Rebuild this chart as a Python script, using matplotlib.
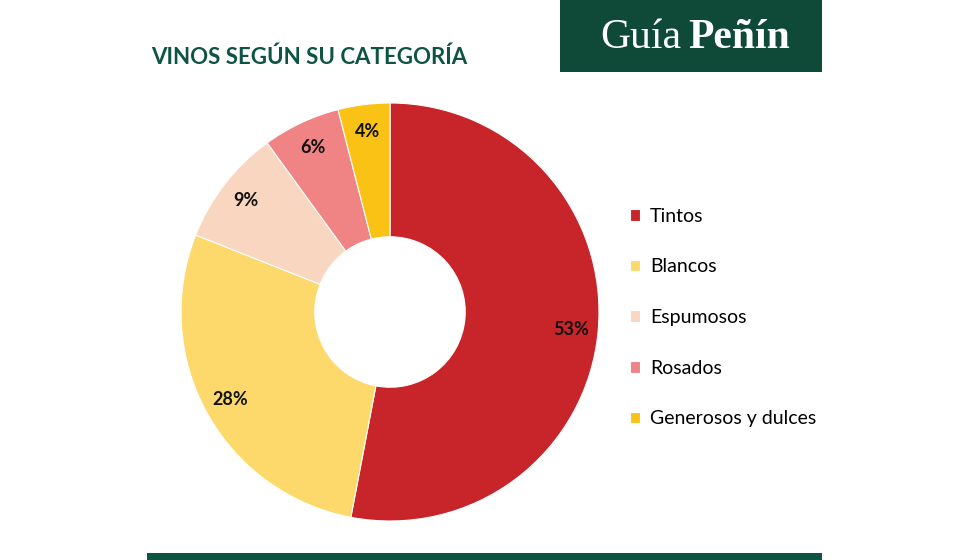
import matplotlib.pyplot as plt
from matplotlib.patches import Rectangle

categorias = ['Tintos', 'Blancos', 'Espumosos', 'Rosados', 'Generosos y dulces']
porcentajes = [53, 28, 9, 6, 4]
colores = ['#C8252A', '#FCD96A', '#F8D6C0', '#F08383', '#F9C214']

verde = '#0E5442'
plt.rcParams['font.family'] = ['Lato', 'DejaVu Sans']

fig = plt.figure(figsize=(9.8, 5.6), dpi=100)
W, H = 980, 560

# donut
cx, cy, r = 390, 312, 209
ax = fig.add_axes([(cx - r) / W, (H - cy - r) / H, 2 * r / W, 2 * r / H])
wedges, _, autotexts = ax.pie(porcentajes, colors=colores, startangle=90, counterclock=False,
                              radius=1, autopct=lambda p: f'{round(p)}%', pctdistance=0.87,
                              wedgeprops=dict(width=0.64, edgecolor='white', linewidth=0.8),
                              textprops=dict(fontsize=13, fontweight='bold', color='#111111'))
ax.set_xlim(-1, 1)
ax.set_ylim(-1, 1)

# titulo
fig.text(151 / W, 1 - 57 / H, 'VINOS SEGÚN SU CATEGORÍA', fontsize=16, fontweight='bold',
         color=verde, va='center', ha='left')

# leyenda
fig.legend(wedges, categorias, loc='upper left', bbox_to_anchor=(622 / W, 1 - 200 / H),
           frameon=False, fontsize=14, labelspacing=1.73, handlelength=0.55, handleheight=0.55,
           handletextpad=0.5, borderaxespad=0)

# logo
fig.patches.append(Rectangle((560 / W, 1 - 72 / H), 262 / W, 72 / H, transform=fig.transFigure,
                             facecolor='#0F4A38', edgecolor='none'))
fig.text(600 / W, 1 - 48 / H, 'Guía', fontsize=30, color='white', family='Liberation Serif',
         va='baseline', ha='left')
fig.text(688 / W, 1 - 48 / H, 'Peñín', fontsize=30, color='white', family='Liberation Serif',
         fontweight='bold', va='baseline', ha='left')

# barra inferior
fig.patches.append(Rectangle((147 / W, 0), 675 / W, 7 / H, transform=fig.transFigure,
                             facecolor=verde, edgecolor='none'))

fig.savefig('out.png', dpi=100, facecolor='white')
